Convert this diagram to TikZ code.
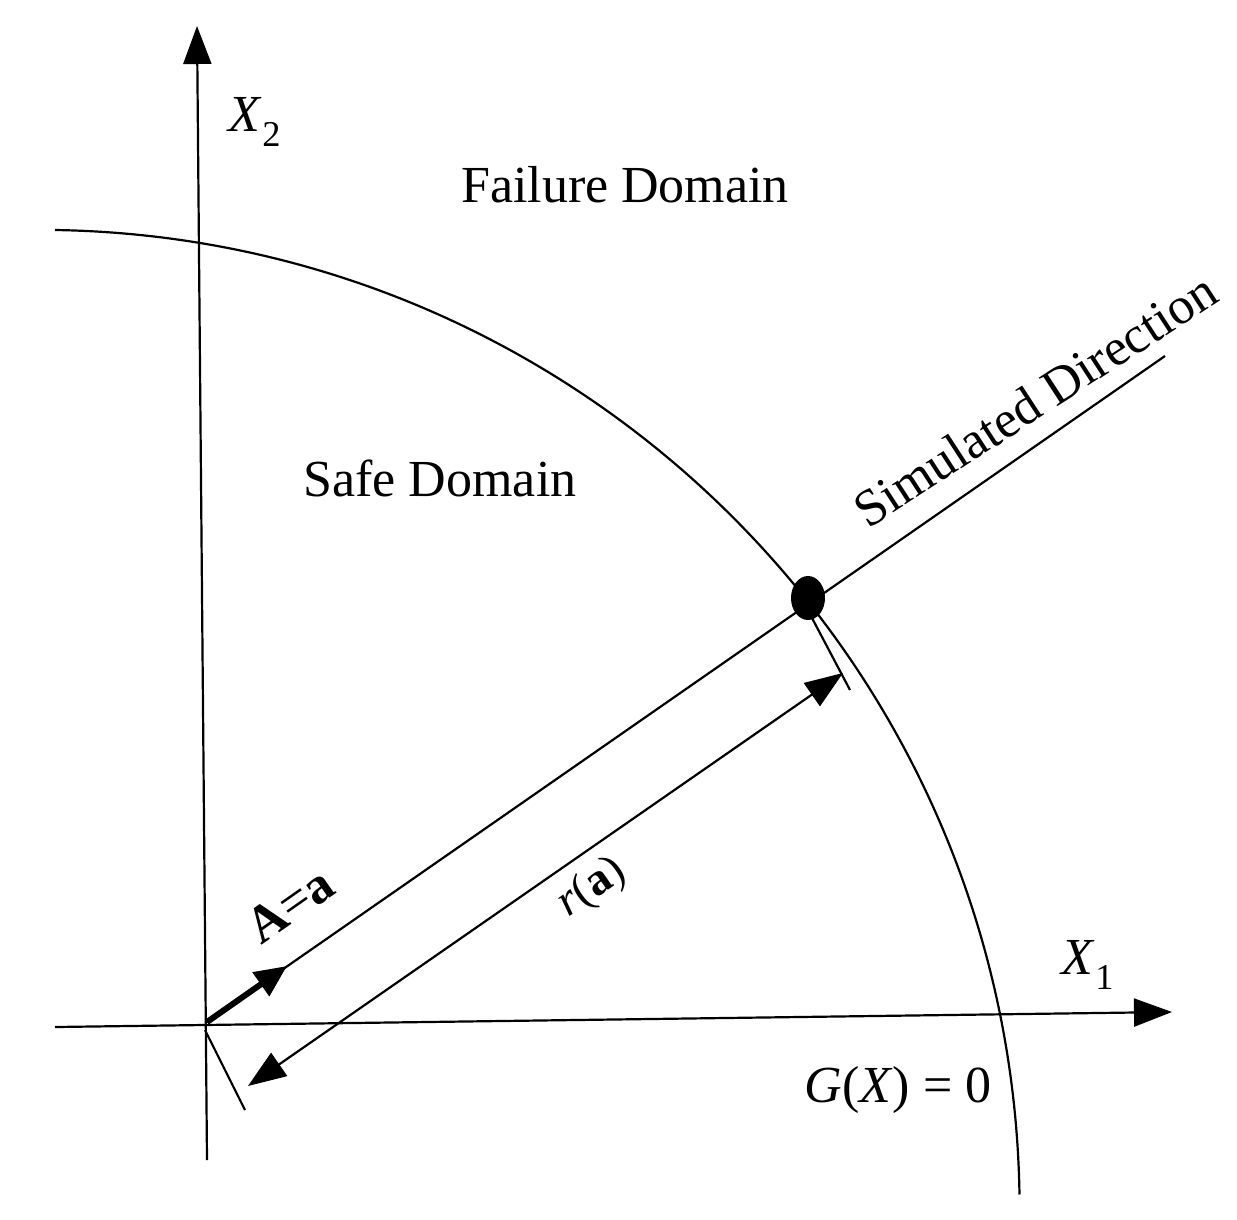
\documentclass[tikz,border=0pt]{standalone}
\usepackage{fontspec}
\setmainfont{Liberation Serif}
\usetikzlibrary{arrows.meta}
\begin{document}
\begin{tikzpicture}[x=1pt,y=-1pt,line width=2.2pt,
  lbl/.style={font=\fontsize{52}{60}\selectfont,inner sep=0},
  ax/.style={-{Triangle[length=38pt,width=28pt]}}]
\useasboundingbox (0,0) rectangle (1237,1219);
\coordinate (O) at (207,1022);
\coordinate (ytop) at (197,26);
\coordinate (ybot) at (207,1160);
\coordinate (xl) at (55,1027);
\coordinate (xr) at (1172,1012);
\coordinate (P) at (808,598);
\coordinate (dend) at (1165,356);
\coordinate (aend) at (287,966);
\coordinate (r1) at (248,1086);
\coordinate (r2) at (843,673);
\coordinate (t1a) at (205,1030);
\coordinate (t1b) at (245,1110);
\coordinate (t2a) at (812,618);
\coordinate (t2b) at (850,690);
\draw[ax] (ybot) -- (ytop);
\draw[ax] (xl) -- (xr);
\draw (55,230) arc[start angle=-89.1,end angle=-0.9,radius=980];
\draw (O) -- (dend);
\fill (P) ellipse (17pt and 22pt);
\draw[line width=6pt,-{Triangle[length=32pt,width=28pt]}] (O) -- (aend);
\draw[{Triangle[length=38pt,width=28pt]}-{Triangle[length=38pt,width=28pt]}] (r1) -- (r2);
\draw (t1a) -- (t1b);
\draw (t2a) -- (t2b);
\node[lbl] (x2) at (255,122) {\textit{X}\textsubscript{2}};
\node[lbl] (x1) at (1088,965) {\textit{X}\textsubscript{1}};
\node[lbl] (fd) at (625,185) {Failure Domain};
\node[lbl] (sd) at (440,478) {Safe Domain};
\node[lbl] (g) at (898,1090) {\textit{G}(\textit{X}) = 0};
\node[lbl,rotate=33] (sim) at (1035,400) {Simulated Direction};
\node[lbl,rotate=35] (A) at (290,905) {\textbf{A}=\textbf{a}};
\node[lbl,rotate=35,font=\fontsize{46}{54}\selectfont] (ra) at (592,888) {\textit{r}(\textbf{a})};
\end{tikzpicture}
\end{document}
